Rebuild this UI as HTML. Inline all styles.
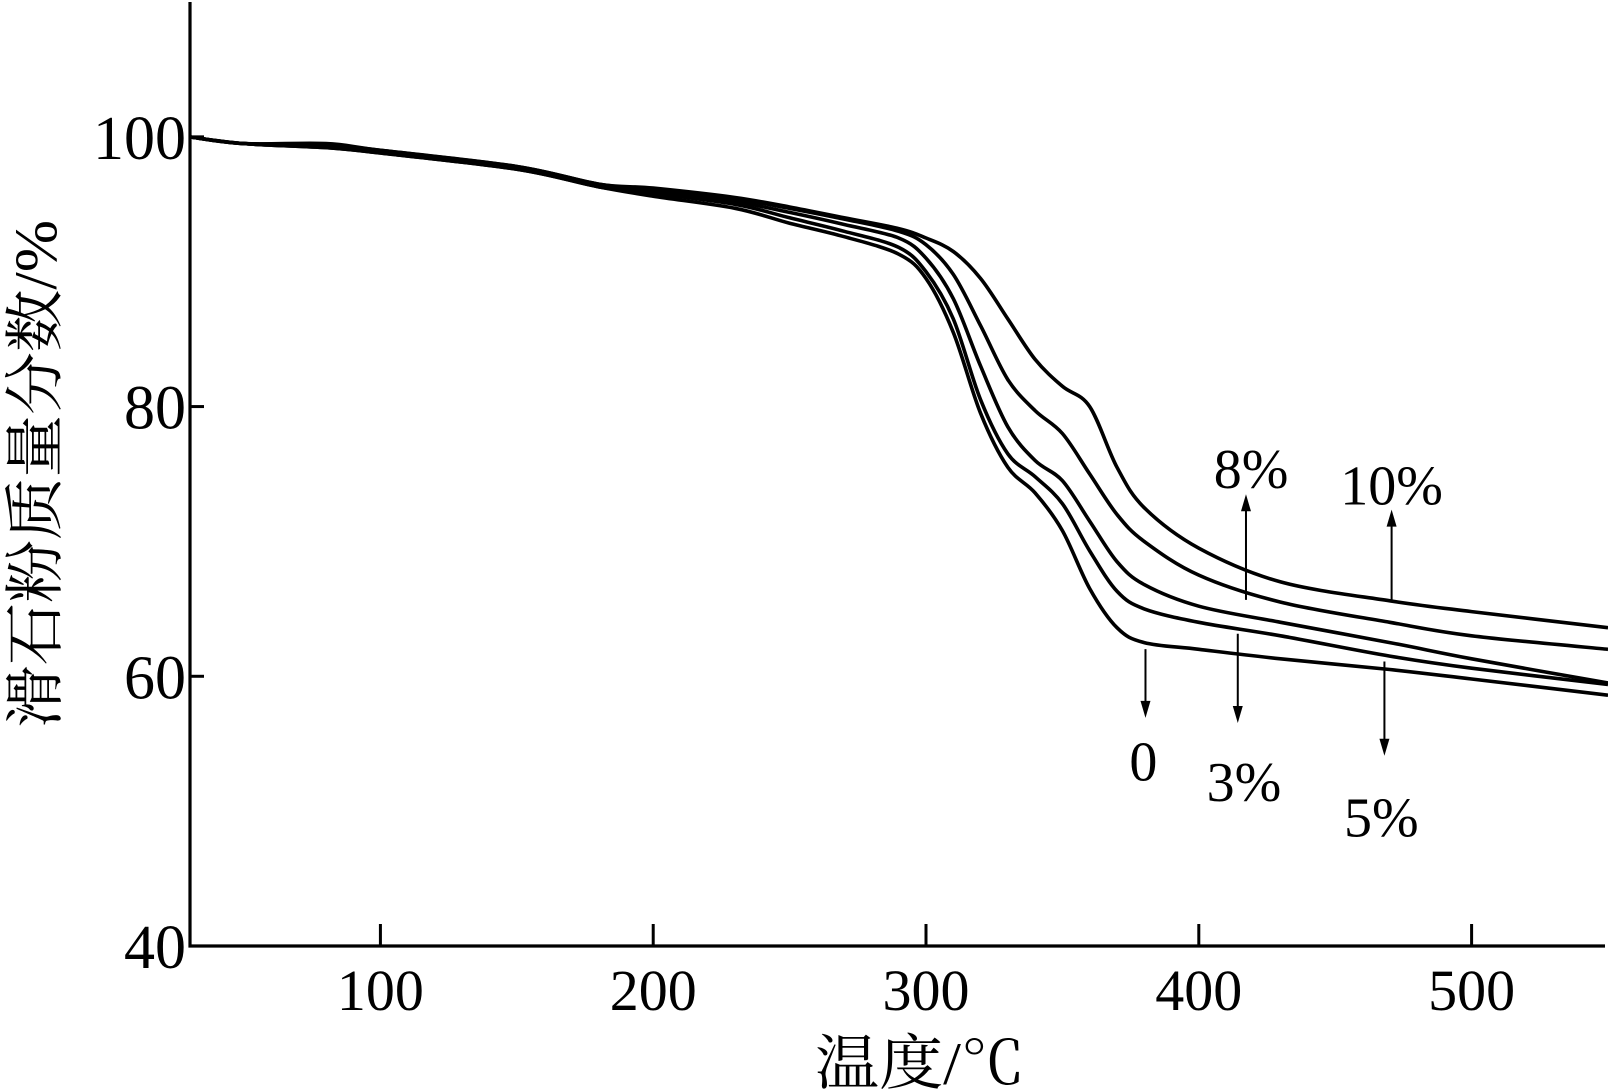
<!DOCTYPE html>
<html><head><meta charset="utf-8"><style>
html,body{margin:0;padding:0;background:#fff;}
svg{display:block;font-family:"Liberation Serif","Noto Serif CJK SC",serif;}
</style></head><body>
<svg id="chart" width="1608" height="1092">
<g id="axes"></g><g id="series"></g><g id="annot"></g>
</svg>
<script>
const temps=[30,50,80,100,150,180,200,230,250,270,290,300,310,320,330,340,350,360,370,380,400,430,470,500,550];
const s0=[100,99.5,99.2,98.8,97.6,96.3,95.6,94.7,93.6,92.6,91.3,89.5,85.5,79.5,75.5,73.6,70.8,66.5,63.6,62.5,62.0,61.3,60.5,59.8,58.6];
const s3=[100,99.5,99.2,98.8,97.6,96.3,95.8,95.0,94.0,93.0,91.8,90.0,86.5,80.5,76.5,74.8,72.8,69.3,66.3,65.0,64.0,63.0,61.5,60.6,59.4];
const s5=[100,99.5,99.4,98.9,97.7,96.4,96.0,95.2,94.4,93.5,92.5,91.0,88.0,83.0,78.5,76.0,74.5,71.5,68.5,66.8,65.2,64.0,62.5,61.3,59.5];
const s8=[100,99.5,99.4,99.0,97.8,96.5,96.1,95.4,94.7,93.9,93.0,92.0,89.8,86.0,82.0,79.7,78.0,75.0,72.0,70.0,67.5,65.5,64.0,63.0,62.0];
const s10=[100,99.5,99.5,99.0,97.8,96.5,96.2,95.5,94.8,94.0,93.2,92.5,91.5,89.5,86.5,83.5,81.5,80.0,75.5,72.5,69.5,67.0,65.6,64.8,63.6];
const xTicks=[100,200,300,400,500];
const yTicks=[40,60,80,100];
const seriesNames=["0","3%","5%","8%","10%"];
const NS="http://www.w3.org/2000/svg";
const L=190,R=1605,T=2,B=946;
const xMin=30.2,xMax=548.9,yMin=40,yMax=110;
function X(v){return L+(v-xMin)/(xMax-xMin)*(R-L);}
function Y(v){return B-(v-yMin)/(yMax-yMin)*(B-T);}
function mk(tag,attrs,parent,text){const e=document.createElementNS(NS,tag);for(const k in attrs)e.setAttribute(k,attrs[k]);if(text!==undefined)e.textContent=text;parent.appendChild(e);return e;}
const axes=document.getElementById('axes');
const frame=mk('path',{d:`M${L},${T}V${B}H${R}`,fill:'none',stroke:'#000','stroke-width':3.2},axes);


xTicks.forEach(v=>{
  const t=mk('line',{x1:X(v),x2:X(v),y1:B,y2:B-22,stroke:'#000','stroke-width':3},axes);
  
  
  const l=mk('text',{x:X(v),y:B+64,'text-anchor':'middle','font-size':58},axes,String(v));
  
  
});
yTicks.forEach(v=>{
  const t=mk('line',{x1:L,x2:L+14,y1:Y(v),y2:Y(v),stroke:'#000','stroke-width':3},axes);
  
  
  const l=mk('text',{x:L-4,y:Y(v)+22,'text-anchor':'end','font-size':62},axes,String(v));
  
  
});
const xt=mk('text',{x:920,y:1084,'text-anchor':'middle','font-size':60,textLength:210,lengthAdjust:'spacingAndGlyphs'},axes,'温度/℃');


const yt=mk('text',{x:0,y:0,'text-anchor':'middle','font-size':60,textLength:508,lengthAdjust:'spacingAndGlyphs',transform:'translate(56,474) rotate(-90)'},axes,'滑石粉质量分数/%');


const sg=document.getElementById('series');
function smooth(pts){
  let d='M'+pts[0][0].toFixed(1)+','+pts[0][1].toFixed(1);
  for(let i=0;i<pts.length-1;i++){
    const p0=pts[Math.max(0,i-1)],p1=pts[i],p2=pts[i+1],p3=pts[Math.min(pts.length-1,i+2)];
    const c1=[p1[0]+(p2[0]-p0[0])/6,p1[1]+(p2[1]-p0[1])/6];
    const c2=[p2[0]-(p3[0]-p1[0])/6,p2[1]-(p3[1]-p1[1])/6];
    d+='C'+c1[0].toFixed(1)+','+c1[1].toFixed(1)+' '+c2[0].toFixed(1)+','+c2[1].toFixed(1)+' '+p2[0].toFixed(1)+','+p2[1].toFixed(1);
  }
  return d;
}
[s0,s3,s5,s8,s10].forEach((s,i)=>{
  const pts=s.map((v,j)=>[X(temps[j]),Y(v)]);
  const p=mk('path',{d:smooth(pts),fill:'none',stroke:'#000','stroke-width':3.6,'stroke-linejoin':'round'},sg);
  
  
});
const an=document.getElementById('annot');
const k=1.0255;
const labels=[["0",1117,633,700,1115,757],["3%",1207,618,705,1213,777],["5%",1350,645,737,1347,812],["8%",1215,585,482,1220,472],["10%",1357,585,497,1357,488]];
labels.forEach(a=>{
  const x=a[1]*k,y1=a[2]*k,y2=a[3]*k;
  const dir=y2>y1?1:-1;
  const ln=mk('line',{x1:x,x2:x,y1:y1,y2:y2-dir*14,stroke:'#000','stroke-width':2},an);
  
  
  const h=mk('polygon',{points:`${x-5},${y2-dir*17} ${x+5},${y2-dir*17} ${x},${y2}`,fill:'#000'},an);
  
  
  const t=mk('text',{x:a[4]*k,y:a[5]*k+4,'text-anchor':'middle','font-size':56},an,a[0]);
  
  
});
</script>
</body></html>
